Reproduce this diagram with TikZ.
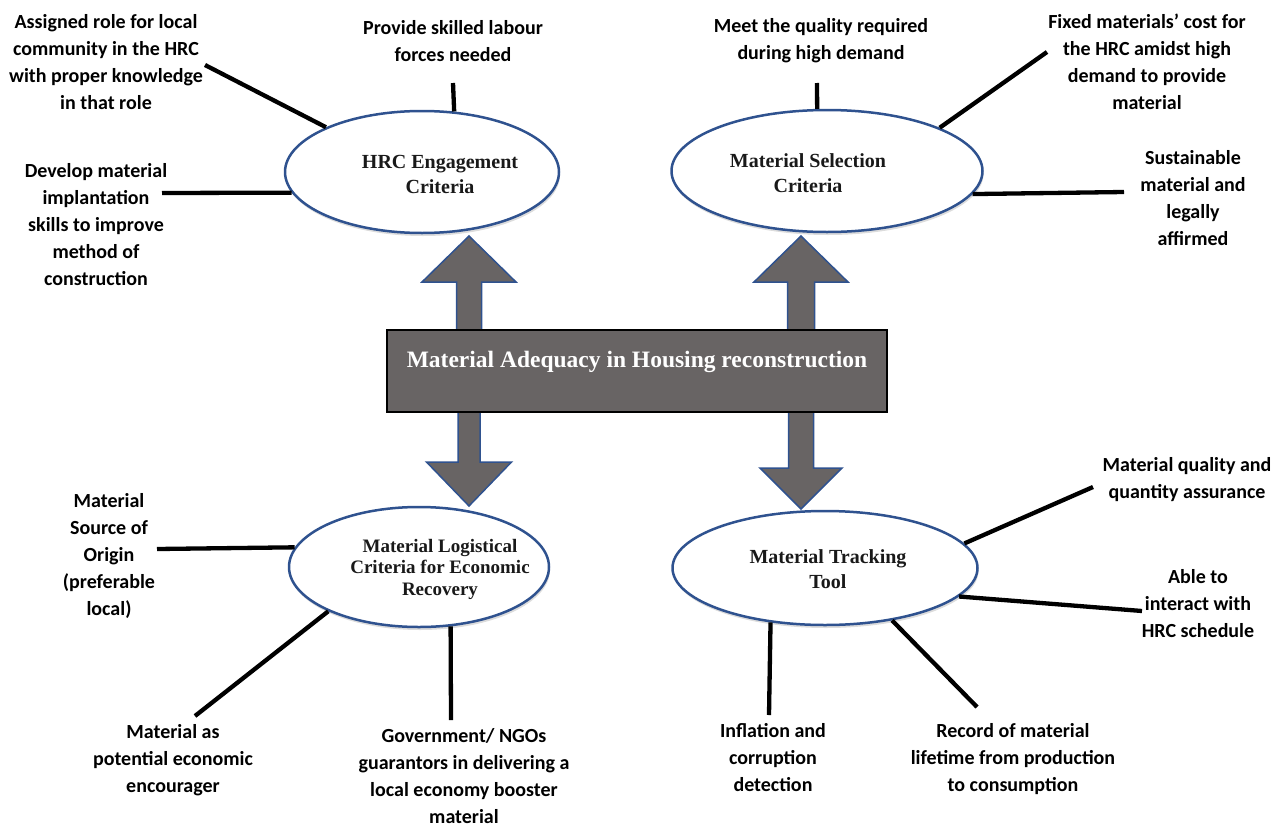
\documentclass[tikz,border=0pt]{standalone}
\usepackage{fontspec}
\usetikzlibrary{shapes.geometric,shadows}
\newfontfamily\lblfont{Carlito}
\newfontfamily\serfont{Liberation Serif}
\definecolor{rimblue}{RGB}{47,82,143}
\definecolor{boxgray}{RGB}{104,100,100}
\tikzset{
  crit/.style={ellipse, draw=rimblue, line width=2.5pt, fill=white, inner sep=0pt,
    drop shadow={opacity=0.28, shadow xshift=1pt, shadow yshift=-3pt}},
  crittext/.style={align=center, font=\serfont\bfseries\fontsize{20}{25}\selectfont, text=black!90},
  lbl/.style={align=center, font=\lblfont\bfseries\fontsize{20}{27}\selectfont, text=black, inner sep=0pt},
  spoke/.style={line width=4.3pt, black},
  blockarrow/.style={fill=boxgray, draw=rimblue, line width=1.5pt, line join=miter},
  corebox/.style={rectangle, fill=boxgray, draw=black, line width=2pt, inner sep=0pt}
}
% vertical block arrow: x, y at box edge, y of tip, y of head base, shaft half width, head half width
\newcommand{\blkarrow}[6]{%
  \filldraw[blockarrow] (#1-#5,#2) -- (#1-#5,#4) -- (#1-#6,#4) -- (#1,#3)
    -- (#1+#6,#4) -- (#1+#5,#4) -- (#1+#5,#2) -- cycle;}
\begin{document}
\begin{tikzpicture}[x=1pt,y=-1pt]
\useasboundingbox (0,0) rectangle (1285,827);

% criteria ellipses
\node[crit, minimum width=274pt, minimum height=122pt] (hrc) at (422,172) {};
\node[crit, minimum width=311pt, minimum height=122pt] (sel) at (827,171) {};
\node[crit, minimum width=260pt, minimum height=120pt] (log) at (419,567) {};
\node[crit, minimum width=305pt, minimum height=114pt] (trk) at (825,568) {};

\node[crittext] (hrct) at (440,174) {HRC Engagement\\Criteria};
\node[crittext] (selt) at (808,173) {Material Selection\\Criteria};
\node[crittext, font=\serfont\bfseries\fontsize{19}{21.5}\selectfont] (logt) at (440,569) {Material Logistical\\Criteria for Economic\\Recovery};
\node[crittext] (trkt) at (828,569) {Material Tracking\\Tool};

% block arrows from the central box
\blkarrow{469}{331}{236}{282}{12.5}{47}
\blkarrow{801}{331}{236}{282}{13.5}{47}
\blkarrow{469}{411}{506}{462}{11}{42.5}
\blkarrow{801}{411}{509}{468}{12.5}{41}

% central box
\node[corebox, minimum width=500pt, minimum height=82pt] (box) at (637,371) {};
\node[font=\serfont\bfseries\fontsize{23.5}{28}\selectfont, text=white] (boxt) at (637,362) {Material Adequacy in Housing reconstruction};

% outer labels
\node[lbl] (la) at (106,62) {Assigned role for local\\community in the HRC\\with proper knowledge\\in that role};
\node[lbl] (lb) at (453,41) {Provide skilled labour\\forces needed};
\node[lbl] (lc) at (96,225) {Develop material\\implantation\\skills to improve\\method of\\construction};
\node[lbl] (ld) at (821,41) {Meet the quality required\\during high demand};
\node[lbl] (le) at (1147,62) {Fixed materials’ cost for\\the HRC amidst high\\demand to provide\\material};
\node[lbl] (lf) at (1193,198) {Sustainable\\material and\\legally\\affirmed};
\node[lbl] (lg) at (109,556) {Material\\Source of\\Origin\\(preferable\\local)};
\node[lbl] (lh) at (173,760) {Material as\\potential economic\\encourager};
\node[lbl] (li) at (464,776) {Government/ NGOs\\guarantors in delivering a\\local economy booster\\material};
\node[lbl] (lj) at (1187,480) {Material quality and\\quantity assurance};
\node[lbl] (lk) at (1198,604) {Able to\\interact with\\HRC schedule};
\node[lbl] (ll) at (773,758) {Inflation and\\corruption\\detection};
\node[lbl] (lm) at (1013,759) {Record of material\\lifetime from production\\to consumption};

% free ends of the spokes
\coordinate (pa) at (205,65);
\coordinate (pb) at (453,83);
\coordinate (pc) at (162,193);
\coordinate (pd) at (817,83);
\coordinate (pe) at (1047,52);
\coordinate (pf) at (1124,192);
\coordinate (pg) at (157,549);
\coordinate (ph) at (195,716);
\coordinate (pi) at (451,720);
\coordinate (pj) at (1093,487);
\coordinate (pk) at (1142,611);
\coordinate (pl) at (769,715);
\coordinate (pm) at (977,707);

% spokes
\draw[spoke] (pa) -- (hrc.155);
\draw[spoke] (pb) -- (hrc.62.7);
\draw[spoke] (pc) -- (hrc.189.5);
\draw[spoke] (pd) -- (sel.99.3);
\draw[spoke] (pe) -- (sel.21.4);
\draw[spoke] (pf) -- (sel.-9.4);
\draw[spoke] (pg) -- (log.171.4);
\draw[spoke] (ph) -- (log.206.8);
\draw[spoke] (pi) -- (log.-62);
\draw[spoke] (pj) -- (trk.10);
\draw[spoke] (pk) -- (trk.-12.7);
\draw[spoke] (pl) -- (trk.-135);
\draw[spoke] (pm) -- (trk.-38.5);
\end{tikzpicture}
\end{document}
